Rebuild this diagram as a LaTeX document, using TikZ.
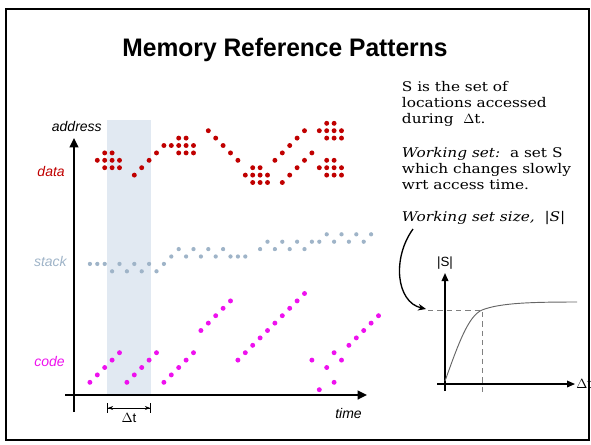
\documentclass[tikz,border=0pt]{standalone}
\usepackage{fontspec}
\newfontfamily\notefont{DejaVu Serif}[FakeStretch=1.15]
\newfontfamily\labelfont{Liberation Sans}
\newfontfamily\titlefont{Liberation Sans}[FakeStretch=0.97]
\usepackage{tikz}
\usetikzlibrary{arrows.meta,positioning}

\definecolor{datared}{HTML}{C00000}
\definecolor{stackblue}{HTML}{9FB4C8}
\definecolor{codepink}{HTML}{EE11EE}
\definecolor{bandblue}{HTML}{E1E9F2}

\begin{document}
\begin{tikzpicture}[
    x=0.75pt, y=-0.75pt,
    axis/.style={line width=1.6pt, -{Triangle[length=7pt, width=6.5pt]}},
    smallaxis/.style={line width=1pt, -{Triangle[length=6pt, width=5pt]}},
    guide/.style={gray, line width=0.6pt, dash pattern=on 4pt off 3pt},
    lbl/.style={font=\labelfont\itshape\fontsize{10.5}{12}\selectfont, inner sep=0pt},
    note/.style={font=\notefont\fontsize{10}{11.9}\selectfont, align=left, anchor=base west, inner sep=0pt}
]
\useasboundingbox (0,0) rectangle (591,444);
\draw[line width=1.5pt] (6,9) rectangle (589,440);

\node[font=\titlefont\bfseries\fontsize{19}{22}\selectfont, anchor=base] (title) at (285,56.5) {Memory Reference Patterns};

% window of width delta t
\fill[bandblue] (107,120) rectangle (151,395);

% axes
\coordinate (ybot) at (74,412);
\coordinate (ytop) at (74,138);
\coordinate (xleft) at (65,395);
\coordinate (xright) at (367,395);
\draw[axis] (ybot) -- (ytop);
\draw[axis] (xleft) -- (xright);

\node[lbl, anchor=base east] (addr) at (102,131.7) {address};
\node[lbl, anchor=base east, text=datared] (data) at (65,176) {data};
\node[lbl, anchor=base east, text=stackblue] (stack) at (67,266) {stack};
\node[lbl, anchor=base east, text=codepink] (code) at (65,366) {code};
\node[lbl, anchor=base east] (time) at (362,418) {time};

% delta t marker
\coordinate (dl) at (107,408);
\coordinate (dr) at (151,408);
\draw[line width=0.6pt, {Bar[width=7pt]Stealth[length=4pt]}-{Stealth[length=4pt]Bar[width=7pt]}] (dl) -- (dr);
\node[font=\labelfont\fontsize{10}{12}\selectfont, anchor=base] (dt) at (129,422) {$\Delta$t};

% reference dots, on a grid of 7.4px
\begin{scope}[xshift=72.975pt, yshift=-92.475pt, x=5.55pt, y=-5.55pt]
    % data
    \foreach \i/\j in {0/4,10/2,20/6,30/5,30/0}
        \foreach \a/\b in {1/0,2/0,0/1,1/1,2/1,3/1,1/2,2/2,3/2}
            \fill[datared] (\i+\a,\j+\b) circle[radius=1.85pt];
    \foreach \i/\j in {5/7,6/6,7/5,8/4,9/3, 15/1,16/2,17/3,18/4,19/5,
                       25/8,26/7,27/6,28/5,29/4, 24/5,25/4,26/3,27/2,28/1}
        \fill[datared] (\i,\j) circle[radius=1.85pt];
    % stack
    \foreach \i/\j in {-1/19,0/19,1/19,3/19,5/19,7/19,9/19, 2/20,4/20,6/20,8/20,
                       10/18,12/18,14/18,16/18,18/18,19/18,20/18, 11/17,13/17,15/17,17/17,
                       22/17,24/17,26/17,28/17, 23/16,25/16,27/16,29/16,
                       30/16,32/16,34/16,36/16, 31/15,33/15,35/15,37/15}
        \fill[stackblue] (\i,\j) circle[radius=1.6pt];
    % code
    \foreach \i/\j in {-1/35,0/34,1/33,2/32,3/31, 4/35,5/34,6/33,7/32,8/31,
                       9/35,10/34,11/33,12/32,13/31, 14/28,15/27,16/26,17/25,18/24,
                       19/32,20/31,21/30,22/29,23/28,24/27,25/26,26/25,27/24,28/23,
                       29/32,30/36,31/33,32/35,32/31,33/32,34/30,35/29,36/28,37/27,38/26}
        \fill[codepink] (\i,\j) circle[radius=1.85pt];
\end{scope}

% notes (base anchor sits on the last line)
\node[note] (n1) at (401.7,123.3) {S is the set of\\locations accessed\\during\ \ $\Delta$t.};
\node[note] (n2) at (401.7,189) {\textit{Working set:}\ \ a set S\\which changes slowly\\wrt access time.};
\node[note] (n3) at (401.7,221.7) {\textit{Working set size,}\ \ \textit{|S|}};

% working set size plot
\coordinate (gbot) at (445,391);
\coordinate (gtop) at (445,273);
\coordinate (gleft) at (437,384);
\coordinate (gright) at (575,384);
\draw[smallaxis] (gbot) -- (gtop);
\draw[smallaxis] (gleft) -- (gright);
\node[font=\labelfont\fontsize{10}{12}\selectfont] (ss) at (445,263) {|S|};
\node[font=\labelfont\fontsize{10}{12}\selectfont, anchor=west, inner sep=0pt] (gdt) at (576,384) {$\Delta$t};

\coordinate (g0) at (445,381);
\coordinate (knee) at (482,310);
\coordinate (gend) at (577,302);
\coordinate (hl) at (428,310);
\coordinate (vb) at (482,392);
\draw[guide] (hl) -- (knee) -- (vb);
\draw[gray!80!black, line width=0.7pt] (g0) .. controls (458,345) and (468,316) .. (knee)
    .. controls (500,303) and (530,302) .. (gend);

\coordinate (cstart) at (413,229);
\coordinate (ctip) at (426,309);
\draw[line width=1pt, -{Stealth[length=6pt, width=5pt]}] (cstart) .. controls (392,258) and (396,302) .. (ctip);
\end{tikzpicture}
\end{document}
